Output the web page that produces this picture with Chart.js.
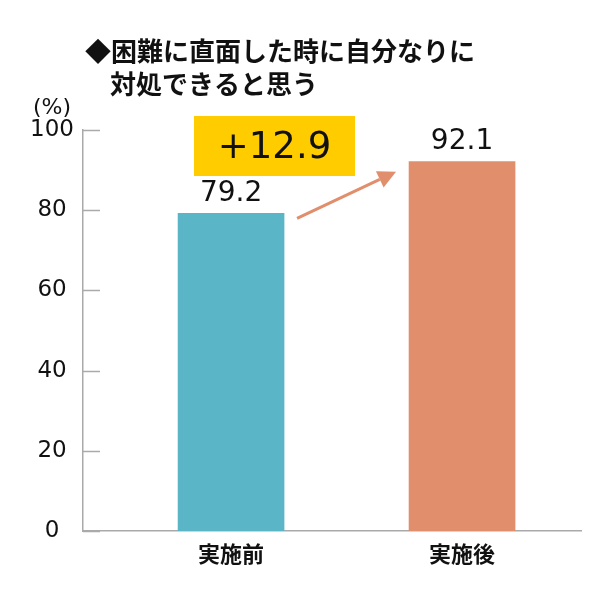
<!DOCTYPE html>
<html><head><meta charset="utf-8">
<script src="https://cdn.jsdelivr.net/npm/chart.js@4"></script>
<style>html,body{margin:0;padding:0;background:#fff}</style>
</head><body>
<canvas id="c" width="600" height="600"></canvas>
<script>
const categories = ['実施前', '実施後'];
const values = [79.2, 92.1];
const barColors = ['#5AB5C6', '#E18E6C'];
const yTicks = [0, 20, 40, 60, 80, 100];
const titleLines = ['◆困難に直面した時に自分なりに', '対処できると思う'];
const unitLabel = '(%)';
const diffLabel = '+12.9';

const JP = '"Noto Sans CJK JP", sans-serif';
const NUM = '"DejaVu Sans", sans-serif';

const overlay = {
  id: 'overlay',
  afterDraw(chart) {
    const ctx = chart.ctx;
    const ys = chart.scales.y;
    const ca = chart.chartArea;
    ctx.save();
    // inward tick marks
    ctx.strokeStyle = '#aaaaaa';
    ctx.lineWidth = 1.5;
    yTicks.forEach(v => {
      const y = Math.round(ys.getPixelForValue(v)) + 0.5;
      ctx.beginPath();
      ctx.moveTo(ca.left, y);
      ctx.lineTo(ca.left + 17, y);
      ctx.stroke();
    });
    // value labels
    const bars = chart.getDatasetMeta(0).data;
    ctx.fillStyle = '#111';
    ctx.font = '28px ' + NUM;
    ctx.textAlign = 'center';
    ctx.textBaseline = 'middle';
    bars.forEach((b, i) => {
      ctx.fillText(values[i].toFixed(1), b.x, b.y - 20);
    });
    // difference box
    ctx.fillStyle = '#FFCC00';
    ctx.fillRect(194, 116, 161, 60);
    ctx.fillStyle = '#111';
    ctx.font = '37px ' + NUM;
    ctx.fillText(diffLabel, 274.5, 148);
    // arrow
    const sx = bars[0].x + 66, sy = bars[0].y + 5;
    const ex = bars[1].x - 66, ey = bars[1].y + 10;
    const ang = Math.atan2(ey - sy, ex - sx);
    const hl = 18, hw = 9;
    const bx = ex - hl * Math.cos(ang), by = ey - hl * Math.sin(ang);
    ctx.strokeStyle = '#E18E6C';
    ctx.fillStyle = '#E18E6C';
    ctx.lineWidth = 3;
    ctx.beginPath();
    ctx.moveTo(sx, sy);
    ctx.lineTo(bx, by);
    ctx.stroke();
    ctx.beginPath();
    ctx.moveTo(ex, ey);
    ctx.lineTo(bx + hw * Math.sin(ang), by - hw * Math.cos(ang));
    ctx.lineTo(bx - hw * Math.sin(ang), by + hw * Math.cos(ang));
    ctx.closePath();
    ctx.fill();
    // title
    ctx.fillStyle = '#111';
    ctx.textAlign = 'left';
    ctx.font = 'bold 26px ' + JP;
    ctx.fillText(titleLines[0], 85, 51);
    ctx.fillText(titleLines[1], 110, 84);
    // unit
    ctx.textAlign = 'center';
    ctx.font = '22px ' + NUM;
    ctx.fillText(unitLabel, 52, 108);
    ctx.restore();
  }
};

new Chart(document.getElementById('c'), {
  type: 'bar',
  data: {
    datasets: [{
      data: values.map((v, i) => ({ x: i, y: v })),
      backgroundColor: barColors,
      borderWidth: 0,
      barThickness: 106
    }]
  },
  options: {
    responsive: false,
    devicePixelRatio: 1,
    animation: false,
    layout: { padding: { top: 130, right: 19, left: 0, bottom: 0 } },
    plugins: { legend: { display: false }, tooltip: { enabled: false }, title: { display: false } },
    scales: {
      x: {
        type: 'linear',
        offset: false,
        min: -0.641,
        max: 1.515,
        grid: { display: false, drawTicks: false },
        border: { color: '#aaaaaa', width: 1.5 },
        afterBuildTicks: s => { s.ticks = categories.map((c, i) => ({ value: i })); },
        afterFit: s => { s.height = 69; },
        ticks: {
          autoSkip: false,
          maxRotation: 0,
          padding: 9,
          color: '#111',
          font: { family: JP, size: 22, weight: 'bold' },
          callback: v => categories[v] ?? ''
        }
      },
      y: {
        min: 0,
        max: 100,
        grid: { display: false, drawTicks: false },
        border: { color: '#aaaaaa', width: 1.5 },
        afterBuildTicks: s => { s.ticks = yTicks.map(v => ({ value: v })); },
        afterFit: s => { s.width = 83; },
        ticks: {
          crossAlign: 'center',
          padding: 9,
          color: '#111',
          font: { family: NUM, size: 23 }
        }
      }
    }
  },
  plugins: [overlay]
});
</script>
</body></html>
